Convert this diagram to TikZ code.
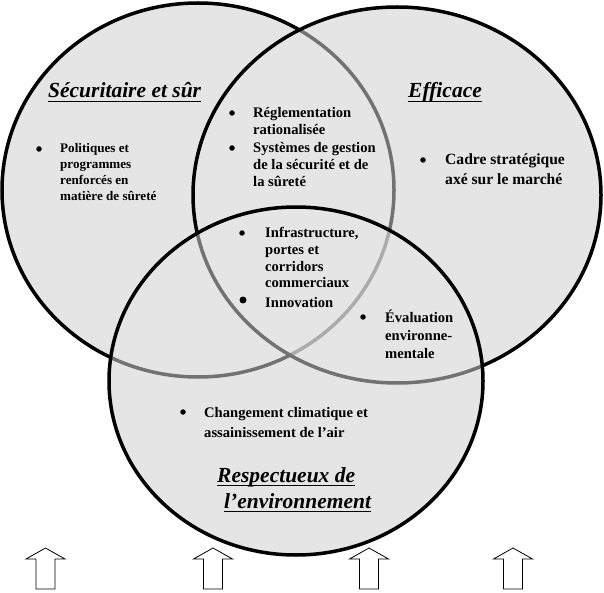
\documentclass[tikz,border=0pt]{standalone}
\usepackage{fontspec}
\setmainfont{Liberation Serif}
\definecolor{venn}{gray}{0.9}
\newcommand\vlines[1]{\begin{tabular}[t]{@{}l@{}}#1\end{tabular}}
\tikzset{
  ring/.style={line width=3.5pt, draw=black},
  veil/.style={fill=venn, fill opacity=0.5},
  body/.style={anchor=base west, inner sep=0pt, font=\bfseries\fontsize{14.6}{16.6}\selectfont},
  dot/.style={circle, fill=black, inner sep=0pt, minimum size=5.5pt},
  bigdot/.style={circle, fill=black, inner sep=0pt, minimum size=7pt},
  title/.style={anchor=base west, inner sep=0pt, font=\bfseries\itshape\fontsize{21.5}{24}\selectfont},
  uline/.style={line width=1.8pt},
  uarrow/.style={draw=black, fill=white, line width=0.8pt, line join=miter}
}
\begin{document}
\begin{tikzpicture}[x=1pt,y=-1pt]
\useasboundingbox (0,0) rectangle (604,593);
% base fills
\fill[venn] (198,190) ellipse [x radius=196, y radius=187];
\fill[venn] (397,195) ellipse [x radius=204, y radius=188];
\fill[venn] (296,381) ellipse [x radius=187, y radius=174];
% layered outlines
\draw[ring] (198,190) ellipse [x radius=196, y radius=187];
\fill[veil] (397,195) ellipse [x radius=204, y radius=188];
\draw[ring] (397,195) ellipse [x radius=204, y radius=188];
\fill[veil] (296,381) ellipse [x radius=187, y radius=174];
\draw[ring] (296,381) ellipse [x radius=187, y radius=174];

% titles
\node[title] (tsec) at (48,98) {Sécuritaire et sûr};
\node[title] (teff) at (408,98) {Efficace};
\node[title] (tres) at (217,482) {Respectueux de};
\node[title] (tenv) at (224,508) {l’environnement};
\foreach \t in {tsec,teff,tres,tenv}
  \draw[uline] ([yshift=-3.5pt]\t.base west) -- ([yshift=-3.5pt]\t.base east);

% items
\node[dot] (bpol) at (39,149) {};
\node[body, font=\bfseries\fontsize{13.1}{15.8}\selectfont] (tpol) at (60,153)
  {\vlines{Politiques et\\programmes\\renforcés en\\matière de sûreté}};

\node[dot] (breg) at (232,113) {};
\node[body] (treg) at (253,118) {\vlines{Réglementation\\rationalisée}};

\node[dot] (bsys) at (232,148) {};
\node[body] (tsys) at (253,153) {\vlines{Systèmes de gestion\\de la sécurité et de\\la sûreté}};

\node[dot] (bcad) at (423,160) {};
\node[body, font=\bfseries\fontsize{15.6}{20}\selectfont] (tcad) at (445,165)
  {\vlines{Cadre stratégique\\axé sur le marché}};

\node[dot] (binf) at (242,233) {};
\node[body] (tinf) at (265,238) {\vlines{Infrastructure,\\portes et\\corridors\\commerciaux}};

\node[bigdot] (binn) at (243,300) {};
\node[body] (tinn) at (265,307) {Innovation};

\node[dot] (beva) at (363,317) {};
\node[body, font=\bfseries\fontsize{14.6}{18}\selectfont] (teva) at (385,322)
  {\vlines{Évaluation\\environne-\\mentale}};

\node[dot] (bcha) at (183,412) {};
\node[body, font=\bfseries\fontsize{14.6}{20}\selectfont] (tcha) at (204,417)
  {\vlines{Changement climatique et\\assainissement de l’air}};

% block arrows
\foreach \x in {45.5,213,369,513}
  \draw[uarrow] (\x,548) -- (\x+19.5,559) -- (\x+9.5,559) -- (\x+9.5,589)
    -- (\x-9.5,589) -- (\x-9.5,559) -- (\x-19.5,559) -- cycle;
\end{tikzpicture}
\end{document}
